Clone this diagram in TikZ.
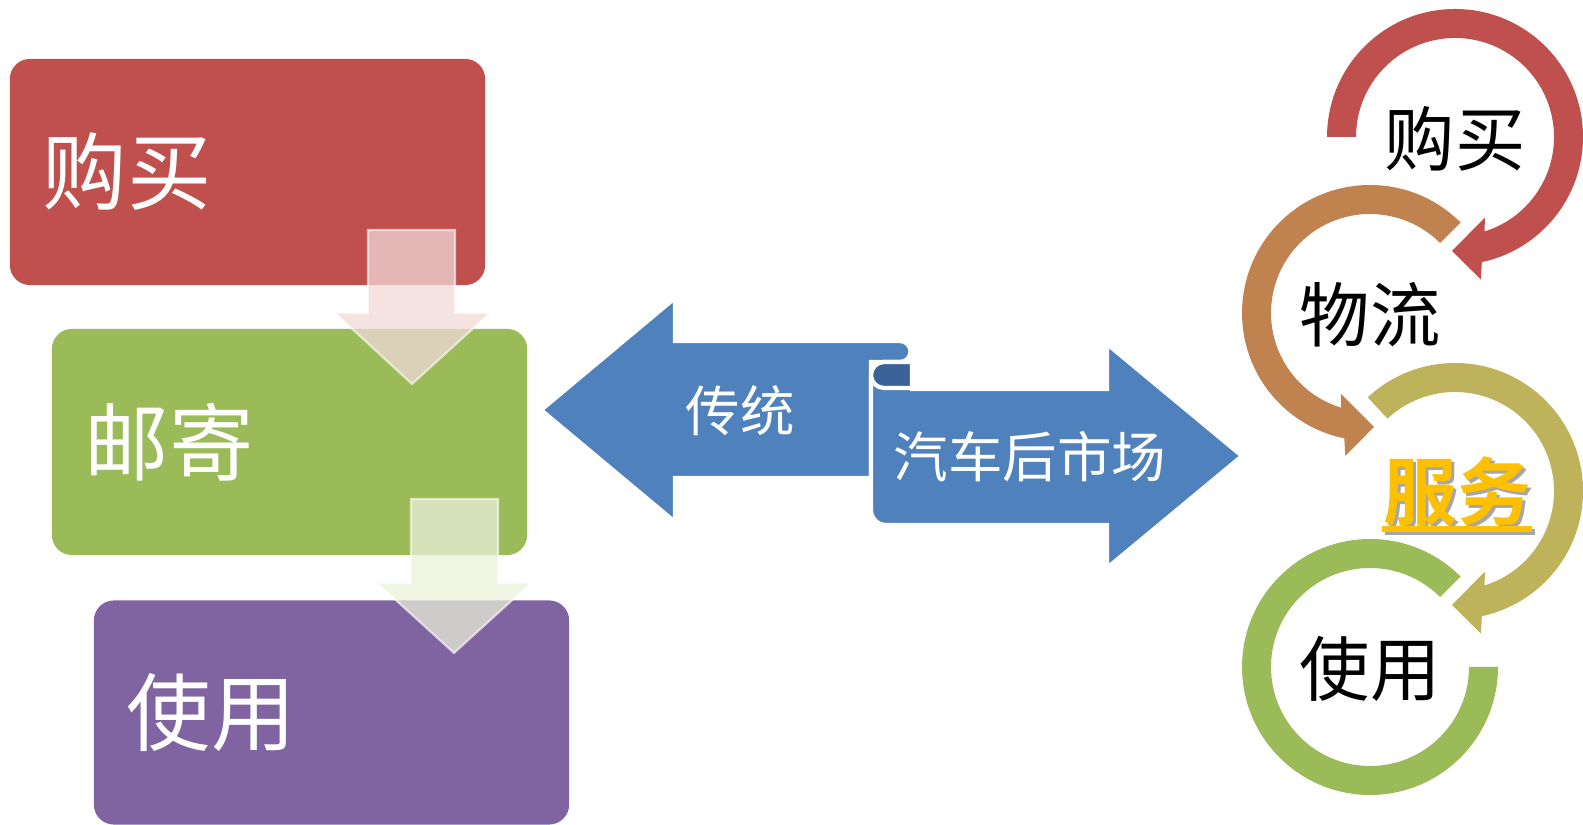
\documentclass[tikz,border=0pt]{standalone}
\usepackage{fontspec}
\setmainfont{Noto Sans CJK SC}[BoldFont={Noto Sans CJK SC Bold}]
\usetikzlibrary{positioning}

\definecolor{boxred}{HTML}{C0504D}
\definecolor{boxgreen}{HTML}{9BBB59}
\definecolor{boxpurple}{HTML}{8064A2}
\definecolor{scrollblue}{HTML}{4F81BD}
\definecolor{curlblue}{HTML}{3B6399}
\definecolor{ringorange}{HTML}{C08350}
\definecolor{ringolive}{HTML}{BEB25A}
\definecolor{servicegold}{HTML}{FFC000}

% ring arrow round a node: centre, start angle, tip angle, turn (1 clockwise, -1 anticlockwise), colour
\newcommand{\ringarrow}[5]{%
  \pgfmathsetmacro{\wingin}{#3+#4*21.8}
  \pgfmathsetmacro{\shaftin}{#3+#4*18.9}
  \pgfmathsetmacro{\shaftout}{#3+#4*13.6}
  \pgfmathsetmacro{\wingout}{#3+#4*11.8}
  \begin{scope}[shift={(#1)}]
    \fill[#5] (#2:128) arc[start angle=#2, end angle=\shaftout, radius=128]
      -- (\wingout:145) -- (#3:114) -- (\wingin:86) -- (\shaftin:99)
      arc[start angle=\shaftin, end angle=#2, radius=99] -- cycle;
  \end{scope}}

\begin{document}
\begin{tikzpicture}[x=0.01cm, y=0.01cm,
    block/.style={rectangle, rounded corners=0.2cm, minimum width=4.75cm, minimum height=2.26cm,
      text width=4.09cm, inner xsep=0.33cm, inner ysep=0pt, align=left, text=white,
      font=\fontsize{24}{24}\selectfont},
    downarrow/.style={draw=white, line width=0.6pt, fill opacity=0.75, draw opacity=0.6},
    scroll/.style={fill=scrollblue, draw=white, line width=1.2pt},
    scrolltext/.style={text=white, font=\fontsize{15.5}{15.5}\selectfont},
    ringtext/.style={text=black, font=\fontsize{20}{20}\selectfont},
    servicetext/.style={inner sep=0pt, font=\fontsize{21}{21}\selectfont\bfseries}
]
\useasboundingbox (0,0) rectangle (1583,825);

% Steps on the left
\node[block, fill=boxred] at (247.5,653) (buy) {购买};
\node[block, fill=boxgreen] at (289.5,383) (post) {邮寄};
\node[block, fill=boxpurple, minimum width=4.73cm, minimum height=2.24cm] at (331.5,112.5) (use) {使用};

% Down arrows between the steps
\draw[downarrow, fill=boxred!22] (368,595) -- (455,595) -- (455,512) -- (490,512)
  -- (412,441) -- (335,512) -- (368,512) -- cycle;
\draw[downarrow, fill=boxgreen!22] (411,326) -- (498,326) -- (498,242) -- (531,242)
  -- (454,172) -- (377,242) -- (411,242) -- cycle;

% Scroll arrows in the middle
\draw[scroll] (541,415) -- (675,527) -- (675,484) -- (900,484)
  arc[start angle=90, end angle=-90, radius=10.5] -- (871,463) -- (871,347)
  -- (675,347) -- (675,303) -- cycle;
\draw[scroll] (871,450) -- (871,315) arc[start angle=180, end angle=270, radius=15]
  -- (1107,300) -- (1107,257) -- (1242,369) -- (1107,481) -- (1107,436)
  -- (912,436) -- (912,463) -- (884,463) arc[start angle=90, end angle=180, radius=13] -- cycle;
\draw[fill=curlblue, draw=white, line width=1.2pt] (912,463) -- (884,463)
  arc[start angle=90, end angle=270, radius=13] -- (912,437) -- cycle;
\node[scrolltext] at (740,414) (old) {传统};
\node[scrolltext] at (1030,368) (after) {汽车后市场};

% Cycle on the right
\node[ringtext] at (1455,686) (buy2) {购买};
\node[ringtext] at (1370,510) (ship2) {物流};
\node[servicetext, text=gray!70] at (1460,331) (serviceshadow) {服务};
\node[servicetext, text=servicegold] at (1457,334) (service) {服务};
\draw[gray!70, line width=1.6pt] ([yshift=-0.1cm]serviceshadow.base west) -- ([yshift=-0.1cm]serviceshadow.base east);
\draw[servicegold, line width=1.6pt] ([yshift=-0.1cm]service.base west) -- ([yshift=-0.1cm]service.base east);
\node[ringtext] at (1370,156) (use2) {使用};

\ringarrow{1455,688}{180}{-91.5}{1}{boxred}
\ringarrow{1370,512}{45}{272}{-1}{ringorange}
\ringarrow{1455,334}{133}{-91.5}{1}{ringolive}
\begin{scope}[shift={(1370,158)}]
  \fill[boxgreen] (45:128) arc[start angle=45, end angle=360, radius=128]
    -- (0:99) arc[start angle=360, end angle=45, radius=99] -- cycle;
\end{scope}

\end{tikzpicture}
\end{document}
